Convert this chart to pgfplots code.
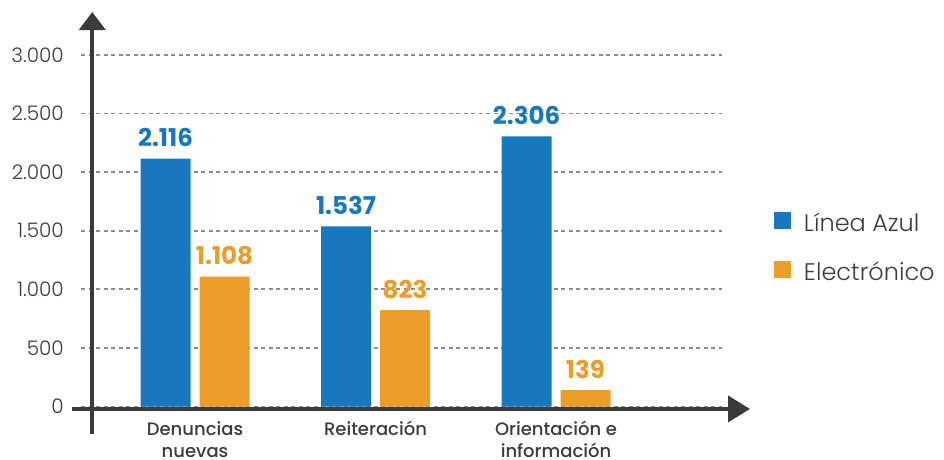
\documentclass[border=0pt]{standalone}
\usepackage{pgfplots}
\pgfplotsset{compat=1.18}
\usepackage{fontspec}
\setmainfont{Poppins}
\newfontfamily\lightfont{Poppins Light}
\newfontfamily\medfont{Poppins Medium}
\usetikzlibrary{arrows.meta}
\definecolor{cblue}{RGB}{24,120,190}
\definecolor{corange}{RGB}{236,156,41}
\definecolor{textgray}{RGB}{60,60,60}
\definecolor{axisgray}{RGB}{58,58,58}
\definecolor{gridgray}{RGB}{140,140,140}
\begin{document}
\begin{tikzpicture}
\begin{axis}[
  scale only axis,
  width=641pt, height=351.5pt,
  xmin=-0.6316, xmax=2.9197,
  ymin=0, ymax=3000,
  clip=false,
  ybar,
  bar width=50pt,
  axis line style={draw=none},
  tick style={draw=none},
  major tick length=0pt,
  ytick={0,500,1000,1500,2000,2500,3000},
  xtick={0,1,2},
  xticklabels={{Denuncias\\nuevas},{Reiteración},{Orientación e\\información}},
  ymajorgrids,
  grid style={dash pattern=on 4pt off 3.5pt, line width=1.8pt, color=gridgray},
  /pgf/number format/.cd, 1000 sep={.}, assume math mode=true, /pgfplots/.cd,
  yticklabel style={font=\lightfont\fontsize{20}{20}\selectfont, text=textgray, anchor=east, inner sep=0pt, xshift=-17pt},
  xticklabel style={font=\medfont\fontsize{18}{22}\selectfont, text=textgray, align=center, anchor=north, inner sep=0pt, text depth=0pt, yshift=-14.5pt},
  legend image code/.code={\fill[#1] (0pt,-6pt) rectangle (17pt,11pt);},
  legend style={at={(rel axis cs:1.0811,0.455)}, anchor=west, draw=none, fill=none,
    inner sep=0pt, outer sep=0pt, font=\lightfont\fontsize{24}{26}\selectfont, text=textgray,
    row sep=28pt, nodes={inner sep=0pt}, /tikz/every odd column/.append style={column sep=13pt}},
  legend cell align=left,
  nodes near coords,
]
\coordinate (pxo) at (rel axis cs:0,0);
\draw[axisgray, line width=4pt, -{Triangle[width=26pt,length=22pt]}] (axis cs:-0.6814,-21) -- (axis cs:3.0748,-21);
\draw[axisgray, line width=4pt, -{Triangle[width=26pt,length=18pt]}] (axis cs:-0.569,-235) -- (axis cs:-0.569,3367);
\addplot[fill=cblue, draw=none, bar shift=-29.5pt,
  every node near coord/.append style={font=\bfseries\fontsize{24.5}{24.5}\selectfont, text=cblue, anchor=base, inner sep=0pt, yshift=12pt}]
  coordinates {(0,2116) (1,1537) (2,2306)};
\addplot[fill=corange, draw=none, bar shift=29.5pt,
  every node near coord/.append style={font=\bfseries\fontsize{24.5}{24.5}\selectfont, text=corange, anchor=base, inner sep=0pt, yshift=12pt}]
  coordinates {(0,1108) (1,823) (2,139)};
\legend{Línea Azul, Electrónico}
\end{axis}
\pgfresetboundingbox
\path (pxo) ++(-81pt,-52.5pt) rectangle ++(944pt,459pt);
\end{tikzpicture}
\end{document}
